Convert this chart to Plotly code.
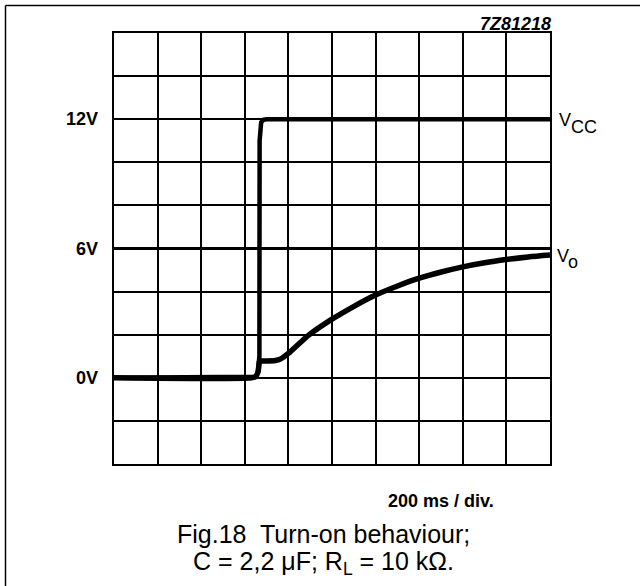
import plotly.graph_objects as go

# ---- data ----
# time in ms (200 ms/div, 10 divisions), voltage in V (2 V/div)
t_vcc = [0, 630, 650, 660, 665, 667, 668, 670, 675, 685, 700, 2000]
v_vcc = [0, 0, 0.05, 0.25, 0.6, 1.0, 11.0, 11.6, 11.85, 11.97, 12, 12]

t_vo = [0, 630, 650, 660, 665, 667, 670, 690, 740, 765, 800, 896, 1000, 1103,
        1200, 1301, 1400, 1501, 1600, 1700, 1800, 1900, 2000]
v_vo = [0, 0, 0.05, 0.25, 0.6, 0.76, 0.78, 0.78, 0.8, 0.88, 1.13, 2.0, 2.72,
        3.33, 3.84, 4.26, 4.62, 4.91, 5.15, 5.34, 5.49, 5.61, 5.70]

x_range = [0, 2000]
y_range = [-4, 16]
y_tick_vals = [0, 6, 12]
y_tick_text = ["0V", "6V", "12V"]

# ---- layout geometry (pixels) ----
W, H = 640, 586
L, R, T, B = 114, 90, 33, 122
PW, PH = W - L - R, H - T - B


def px(xp):
    return (xp - L) / PW


def py(yp):
    return (H - B - yp) / PH


FONT = "Arial, Liberation Sans, Helvetica, sans-serif"

fig = go.Figure()
fig.add_trace(go.Scatter(x=t_vo, y=v_vo, mode="lines",
                         line=dict(color="black", width=5.5, shape="spline",
                                   smoothing=0.8),
                         hoverinfo="skip"))
fig.add_trace(go.Scatter(x=t_vcc, y=v_vcc, mode="lines",
                         line=dict(color="black", width=4.5), hoverinfo="skip"))

fig.update_xaxes(range=x_range, dtick=200, showgrid=True, gridcolor="black",
                 gridwidth=2, showline=True, linecolor="black", linewidth=2,
                 mirror=True, zeroline=False, showticklabels=False, ticks="",
                 fixedrange=True)
fig.update_yaxes(range=y_range, dtick=2, showgrid=True, gridcolor="black",
                 gridwidth=2, showline=True, linecolor="black", linewidth=2,
                 mirror=True, zeroline=False, showticklabels=False, ticks="",
                 fixedrange=True)

annotations = []
for val, txt in zip(y_tick_vals, y_tick_text):
    annotations.append(dict(xref="paper", yref="y", x=px(100), y=val,
                            text="<b>%s</b>" % txt, showarrow=False,
                            xanchor="right", yanchor="middle",
                            font=dict(family=FONT, size=18, color="black")))

annotations += [
    dict(xref="paper", yref="paper", x=px(557), y=py(120), text="V",
         showarrow=False, xanchor="left", yanchor="middle",
         font=dict(family=FONT, size=18, color="black")),
    dict(xref="paper", yref="paper", x=px(569), y=py(127), text="CC",
         showarrow=False, xanchor="left", yanchor="middle",
         font=dict(family=FONT, size=18, color="black")),
    dict(xref="paper", yref="paper", x=px(555), y=py(256), text="V",
         showarrow=False, xanchor="left", yanchor="middle",
         font=dict(family=FONT, size=18, color="black")),
    dict(xref="paper", yref="paper", x=px(566), y=py(262), text="o",
         showarrow=False, xanchor="left", yanchor="middle",
         font=dict(family=FONT, size=18, color="black")),
    dict(xref="paper", yref="paper", x=px(553), y=py(24),
         text="<b><i>7Z81218</i></b>", showarrow=False,
         xanchor="right", yanchor="middle",
         font=dict(family=FONT, size=18, color="black")),
    dict(xref="paper", yref="paper", x=px(386), y=py(501),
         text="<b>200 ms / div.</b>", showarrow=False,
         xanchor="left", yanchor="middle",
         font=dict(family=FONT, size=18, color="black")),
    dict(xref="paper", yref="paper", x=px(323), y=py(534),
         text="Fig.18  Turn-on behaviour;", showarrow=False,
         xanchor="center", yanchor="middle",
         font=dict(family=FONT, size=25, color="black")),
    dict(xref="paper", yref="paper", x=px(323), y=py(563),
         text="C = 2,2 \u03bcF; R<sub>L</sub> = 10 k\u03a9.", showarrow=False,
         xanchor="center", yanchor="middle",
         font=dict(family=FONT, size=25, color="black")),
]

shapes = [
    # emphasised 6 V grid line
    dict(type="line", xref="paper", yref="y", x0=0, x1=1, y0=6, y1=6,
         line=dict(color="black", width=3), layer="below"),
    # figure frame
    dict(type="line", xref="paper", yref="paper", x0=px(5.5), x1=px(5.5),
         y0=py(5.5), y1=py(590), line=dict(color="black", width=1.5)),
    dict(type="line", xref="paper", yref="paper", x0=px(5.5), x1=px(645),
         y0=py(5.5), y1=py(5.5), line=dict(color="black", width=1.5)),
]

fig.update_layout(width=W, height=H, margin=dict(l=L, r=R, t=T, b=B),
                  paper_bgcolor="white", plot_bgcolor="white",
                  showlegend=False, annotations=annotations, shapes=shapes)

fig.write_html("out.html", config={"displayModeBar": False},
               post_script="document.body.style.margin='0';"
                           "document.body.style.overflow='hidden';")
